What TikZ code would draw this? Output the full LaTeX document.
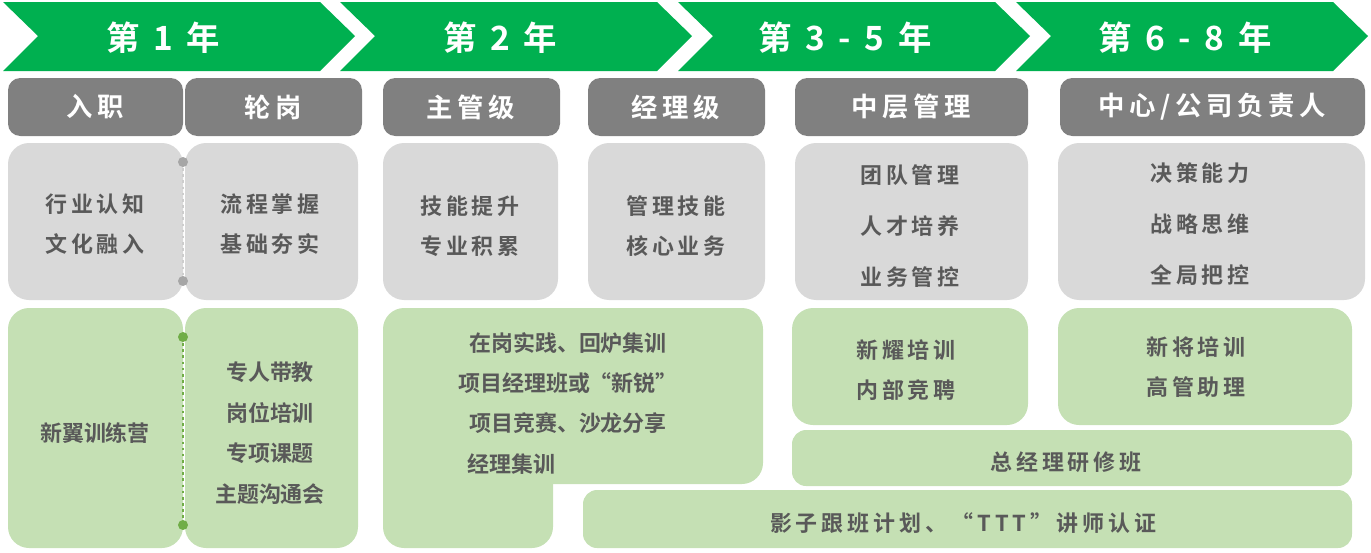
\documentclass[tikz,border=0pt]{standalone}
\usepackage{fontspec}
\setmainfont{Noto Sans CJK SC}[BoldFont={Noto Sans CJK SC Bold}]
\definecolor{bandgreen}{HTML}{00B050}
\definecolor{headgray}{HTML}{808080}
\definecolor{cardgray}{HTML}{D9D9D9}
\definecolor{cardgreen}{HTML}{C5E0B4}
\definecolor{txtgray}{HTML}{595959}
\definecolor{dotgreen}{HTML}{70AD47}
\newcommand{\wide}{\addfontfeature{LetterSpace=18}}
\tikzset{
  band/.style={fill=bandgreen, draw=none},
  bandtext/.style={text=white, font=\bfseries\fontsize{19}{22}\selectfont\wide},
  headbox/.style={fill=headgray, rounded corners=7pt},
  headtext/.style={text=white, font=\bfseries\fontsize{15}{18}\selectfont\wide},
  graycard/.style={fill=cardgray, rounded corners=12pt},
  greencard/.style={fill=cardgreen, rounded corners=12pt},
  cardtext/.style={text=txtgray, align=center, font=\bfseries\fontsize{12.5}{23}\selectfont\wide},
  tighttext/.style={text=txtgray, align=center, font=\bfseries\fontsize{12.5}{23}\selectfont},
}
\begin{document}
\begin{tikzpicture}[x=0.02cm, y=-0.02cm]
\useasboundingbox (0,0) rectangle (1371,552);
% year bands
\foreach \xa/\xb in {3/355, 340/692, 678/1030, 1016/1368}
  \fill[band] (\xa,2) -- (\xb-35,2) -- (\xb,36) -- (\xb-35,71) -- (\xa,71) -- (\xa+35,36) -- cycle;
\node[bandtext] (y1) at (163,38) {第 1 年};
\node[bandtext] (y2) at (500,38) {第 2 年};
\node[bandtext] (y3) at (845,38) {第 3 - 5 年};
\node[bandtext] (y4) at (1185,38) {第 6 - 8 年};
% headers
\foreach \xa/\xb in {8/183, 185/362, 383/560, 588/765, 795/1028, 1060/1365}
  \fill[headbox] (\xa,78) rectangle (\xb,136);
\node[headtext] (h1) at (95,107) {入职};
\node[headtext] (h2) at (273,107) {轮岗};
\node[headtext] (h3) at (471,107) {主管级};
\node[headtext] (h4) at (676,107) {经理级};
\node[headtext] (h5) at (911,107) {中层管理};
\node[headtext] (h6) at (1212,107) {中心/公司负责人};
% ability cards
\foreach \xa/\xb in {8/183, 185/358, 383/558, 588/765, 795/1028, 1058/1365}
  \fill[graycard] (\xa,143) rectangle (\xb,300);
\node[cardtext] (a1) at (95,224) {行业认知\\文化融入};
\node[cardtext] (a2) at (270,224) {流程掌握\\基础夯实};
\node[cardtext] (a3) at (470,226) {技能提升\\专业积累};
\node[cardtext] (a4) at (676,226) {管理技能\\核心业务};
\node[cardtext, font=\bfseries\fontsize{12.5}{29}\selectfont\wide] (a5) at (910,226) {团队管理\\人才培养\\业务管控};
\node[cardtext, font=\bfseries\fontsize{12.5}{29}\selectfont\wide] (a6) at (1200,224) {决策能力\\战略思维\\全局把控};
\coordinate (d1) at (183,162);
\coordinate (d2) at (183,281);
\draw[cardgray!60!black!40, line width=1.5pt, dotted] (d1) -- (d2);
\fill[gray!70] (d1) circle (5) (d2) circle (5);
% training cards
\fill[greencard] (8,308) rectangle (183,548);
\fill[greencard] (185,308) rectangle (358,548);
\fill[greencard] (383,308) rectangle (763,484);
\fill[greencard] (383,400) rectangle (553,548);
\fill[greencard] (792,308) rectangle (1028,425);
\fill[greencard] (1058,308) rectangle (1352,425);
\fill[greencard, rounded corners=8pt] (792,430) rectangle (1352,486);
\fill[greencard, rounded corners=8pt] (583,490) rectangle (1352,548);
\node[tighttext] (t1) at (95,433) {新翼训练营};
\node[tighttext] (t2) at (270,433) {专人带教\\岗位培训\\专项课题\\主题沟通会};
\node[tighttext, anchor=west] (t3a) at (463,343) {在岗实践、回炉集训};
\node[tighttext, anchor=west] (t3b) at (452,383) {项目经理班或“新锐”};
\node[tighttext, anchor=west] (t3c) at (463,423) {项目竞赛、沙龙分享};
\node[tighttext, anchor=west] (t3d) at (461,464) {经理集训};
\node[cardtext] (t4) at (906,370) {新耀培训\\内部竞聘};
\node[cardtext] (t5) at (1196,367) {新将培训\\高管助理};
\node[cardtext] (t6) at (1066,462) {总经理研修班};
\node[cardtext] (t7) at (963,523) {影子跟班计划、“TTT”讲师认证};
\coordinate (g1) at (183,337);
\coordinate (g2) at (183,525);
\draw[dotgreen, line width=1.5pt, dotted] (g1) -- (g2);
\fill[dotgreen] (g1) circle (5) (g2) circle (5);
\end{tikzpicture}
\end{document}
